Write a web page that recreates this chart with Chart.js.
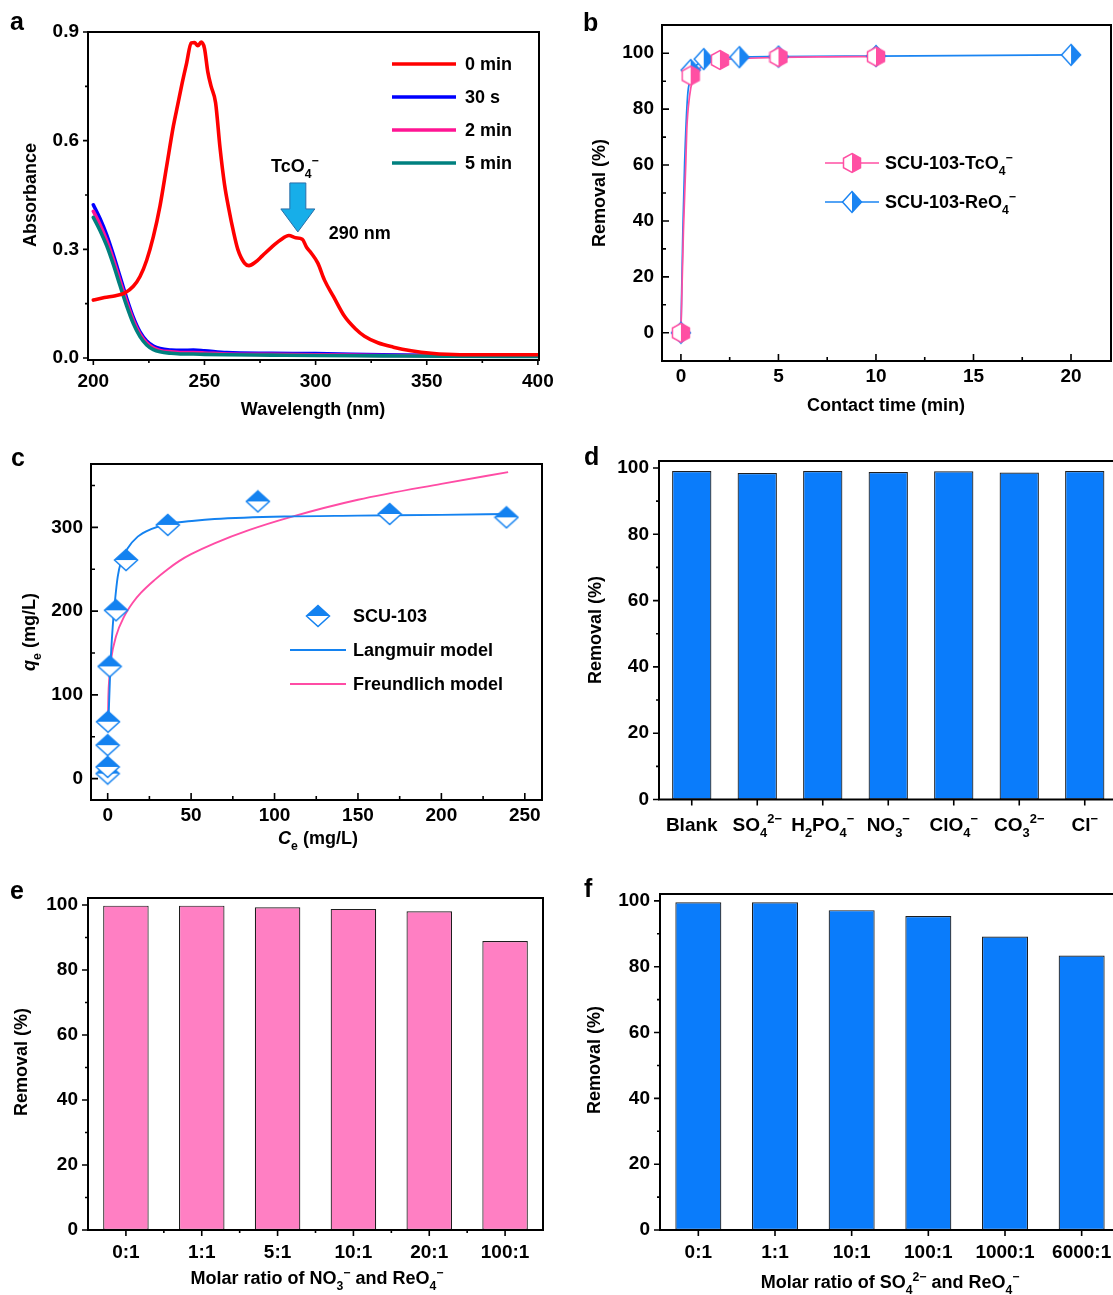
<!DOCTYPE html>
<html>
<head>
<meta charset="utf-8">
<script src="https://cdn.jsdelivr.net/npm/chart.js@4.4.0/dist/chart.umd.min.js"></script>
<style>
html, body { margin:0; padding:0; background:#fff; overflow:hidden; width:1113px; height:1295px; }
canvas { position:absolute; left:0; top:0; }
</style>
</head>
<body>
<canvas id="chartA" width="1130" height="1295"></canvas>
<canvas id="chartB" width="1130" height="1295"></canvas>
<canvas id="chartC" width="1130" height="1295"></canvas>
<canvas id="chartD" width="1130" height="1295"></canvas>
<canvas id="chartE" width="1130" height="1295"></canvas>
<canvas id="chartF" width="1130" height="1295"></canvas>
<script>
// ── Data ──
// a: UV-vis spectra
const wl0  = [200,205,210,214,218,221,224,227,230,233,236,238,240,242,244,245.5,247,248.5,250,251.5,253,255,257,259,261,263,265,268,270,273,276,280,284,288,291,294,296,298,301,304,308,313,318,322,328,335,343,352,365,380,400];
const abs0 = [0.160,0.167,0.172,0.179,0.198,0.225,0.270,0.335,0.420,0.530,0.640,0.700,0.760,0.815,0.870,0.871,0.862,0.872,0.855,0.790,0.750,0.705,0.580,0.480,0.410,0.350,0.300,0.262,0.255,0.265,0.282,0.305,0.325,0.338,0.332,0.328,0.305,0.290,0.262,0.215,0.170,0.115,0.080,0.060,0.042,0.030,0.020,0.013,0.009,0.009,0.009];
const wlLow   = [200,203,206,209,212,215,218,221,224,227,230,235,240,245,250,260,280,300,330,360,400];
const abs30s  = [0.423,0.385,0.340,0.285,0.225,0.165,0.112,0.072,0.047,0.033,0.026,0.022,0.021,0.022,0.020,0.015,0.013,0.012,0.009,0.007,0.006];
const abs2min = [0.405,0.368,0.325,0.272,0.213,0.155,0.104,0.066,0.042,0.028,0.021,0.017,0.015,0.015,0.014,0.011,0.010,0.009,0.007,0.006,0.005];
const abs5min = [0.388,0.352,0.310,0.258,0.200,0.144,0.095,0.059,0.036,0.023,0.017,0.013,0.011,0.011,0.010,0.009,0.008,0.007,0.006,0.005,0.004];
const aLegend = ['0 min','30 s','2 min','5 min'];
const aTicksX = [200,250,300,350,400];
const aTicksY = [0,0.3,0.6,0.9];

// b: kinetics
const tcTime    = [0,0.5,2,5,10];
const tcRemoval = [0,92,97.6,98.6,98.8];
const reTime    = [0,0.5,1.17,3,5,10,20];
const reRemoval = [0,94,97.9,98.6,98.8,99.0,99.4];
const tcFitTime    = [0,0.13,0.25,0.3,0.44,0.6,0.87,1.33,1.76,2.5,3.5,5,7.5,10];
const tcFitRemoval = [0,36.8,60.6,72.5,84.5,90.4,94,96.2,97.4,97.9,98.2,98.5,98.7,98.8];
const reFitTime    = [0,0.1,0.19,0.34,0.48,0.7,1,1.5,3,5,10,20];
const reFitRemoval = [0,36.8,60.6,84.5,90.4,94.8,96.8,97.8,98.6,98.8,99.0,99.4];
const bLegend = ['SCU-103-TcO_{4}^{−}','SCU-103-ReO_{4}^{−}'];
const bTicksX = [0,5,10,15,20];
const bTicksY = [0,20,40,60,80,100];

// c: isotherm
const ceData = [0,0,0,0.2,1.2,5,11,36,90,169,239];
const qeData = [6,14,40,68,134,201,261,303,331,316,312];
const langCe = [0.3,1.6,3,4.4,6,8,12,18,26,36,52,64,106,150,200,240];
const langQe = [58,133,181,213,241,259,275,289,298,304,308,310,313,314,315,316];
const freCe  = [0.1,0.4,1,2,5,10,15,20,28,36,43,50,64,85,109,150,200,240];
const freQe  = [66,98,121,142,170,194,210,222,237,250,260,268,281,297,312,333,352,366];
const cLegend = ['SCU-103','Langmuir model','Freundlich model'];
const cTicksX = [0,50,100,150,200,250];
const cTicksY = [0,100,200,300];

// d, e, f: bars
const dIons    = ['Blank','SO_{4}^{2−}','H_{2}PO_{4}^{−}','NO_{3}^{−}','ClO_{4}^{−}','CO_{3}^{2−}','Cl^{−}'];
const dRemoval = [99.1,98.5,99.1,98.8,99.0,98.6,99.1];
const eRatios  = ['0:1','1:1','5:1','10:1','20:1','100:1'];
const eRemoval = [99.8,99.8,99.3,98.8,98.05,88.9];
const fRatios  = ['0:1','1:1','10:1','100:1','1000:1','6000:1'];
const fRemoval = [99.6,99.6,97.2,95.4,89.2,83.4];
const barTicksY = [0,20,40,60,80,100];

// ── Helpers ──
const FONT = "'Liberation Sans', Arial, Helvetica, sans-serif";
const PAGE_W = 1130, PAGE_H = 1295;
const toXY = (xs, ys) => xs.map((x, i) => ({x, y: ys[i]}));

function parseRich(s) {
  const parts = [], re = /([_^*])\{([^}]*)\}|([^_^*]+)/g;
  let m;
  while ((m = re.exec(s))) parts.push(m[3] ? {t:m[3], k:''} : {t:m[2], k:m[1]});
  return parts;
}
function richFont(p, size) {
  const small = p.k === '_' || p.k === '^';
  return `${p.k === '*' ? 'italic ' : ''}bold ${small ? size * 0.68 : size}px ${FONT}`;
}
// y = vertical centre of capitals
function drawRich(ctx, s, x, y, size, align, rot) {
  const parts = parseRich(s);
  ctx.save();
  ctx.translate(x, y);
  if (rot) ctx.rotate(rot);
  let w = 0;
  parts.forEach(p => { ctx.font = richFont(p, size); p.w = ctx.measureText(p.t).width; w += p.w; });
  let cx = align === 'center' ? -w / 2 : align === 'right' ? -w : 0;
  const base = size * 0.36;
  ctx.fillStyle = '#000';
  ctx.textAlign = 'left';
  ctx.textBaseline = 'alphabetic';
  parts.forEach(p => {
    ctx.font = richFont(p, size);
    const dy = p.k === '_' ? size * 0.3 : p.k === '^' ? -size * 0.42 : 0;
    ctx.fillText(p.t, cx, base + dy);
    cx += p.w;
  });
  ctx.restore();
}

function markerImg(shape, w, h, color, half) {
  const c = document.createElement('canvas');
  c.width = w + 3; c.height = h + 3;
  const g = c.getContext('2d');
  g.translate(1.5, 1.5);
  g.beginPath();
  if (shape === 'hex') {
    g.moveTo(w/2, 0); g.lineTo(w, h*0.25); g.lineTo(w, h*0.75);
    g.lineTo(w/2, h); g.lineTo(0, h*0.75); g.lineTo(0, h*0.25);
  } else {
    g.moveTo(w/2, 0); g.lineTo(w, h/2); g.lineTo(w/2, h); g.lineTo(0, h/2);
  }
  g.closePath();
  g.fillStyle = '#fff'; g.fill();
  g.save(); g.clip();
  g.fillStyle = color;
  if (half === 'right') g.fillRect(w/2, -2, w, h + 4);
  else g.fillRect(-2, -2, w + 4, h/2 + 2);
  g.restore();
  g.strokeStyle = color; g.lineWidth = 1.5; g.stroke();
  return c;
}

function axisLin(min, max, ticks, fmt, pad, fit) {
  return {
    type:'linear', min, max,
    grid:{display:false, drawTicks:false}, border:{display:false},
    ticks:{font:{family:FONT, size:19, weight:'bold'}, color:'#000', padding:pad, maxRotation:0, autoSkip:false, callback:fmt},
    afterBuildTicks: s => { s.ticks = ticks.map(v => ({value:v})); },
    afterFit: fit
  };
}
function axisCat(fit) {
  return {
    type:'category', offset:true,
    grid:{display:false, drawTicks:false, offset:true}, border:{display:false},
    ticks:{display:false, autoSkip:false, maxRotation:0},
    afterFit: fit
  };
}

// frame, ticks, titles, letter and extras drawn over each panel
function framePlugin(p) {
  return {
    id: 'frame' + p.letter,
    afterDraw(chart) {
      const ctx = chart.ctx, a = chart.chartArea;
      const sx = chart.scales.x, sy = chart.scales.y;
      const sg = p.dir === 'in' ? -1 : 1;
      ctx.save();
      ctx.strokeStyle = '#000';
      ctx.lineWidth = 2;
      ctx.strokeRect(a.left, a.top, a.right - a.left, a.bottom - a.top);
      ctx.lineWidth = 1.6;
      ctx.beginPath();
      sx.ticks.forEach((t, i) => { const x = sx.getPixelForTick(i); ctx.moveTo(x, a.bottom); ctx.lineTo(x, a.bottom + sg * p.major); });
      (p.xMinor || []).forEach(v => { const x = sx.getPixelForValue(v); ctx.moveTo(x, a.bottom); ctx.lineTo(x, a.bottom + sg * p.minor); });
      sy.ticks.forEach((t, i) => { const y = sy.getPixelForTick(i); ctx.moveTo(a.left, y); ctx.lineTo(a.left - sg * p.major, y); });
      (p.yMinor || []).forEach(v => { const y = sy.getPixelForValue(v); ctx.moveTo(a.left, y); ctx.lineTo(a.left - sg * p.minor, y); });
      ctx.stroke();
      if (p.catY) sx.ticks.forEach((t, i) => drawRich(ctx, sx.getLabelForValue(t.value), sx.getPixelForTick(i), p.catY, 19, 'center'));
      if (p.xTitle) drawRich(ctx, p.xTitle.text, p.xTitle.x, p.xTitle.y, 18, 'center');
      if (p.yTitle) drawRich(ctx, p.yTitle.text, p.yTitle.x, p.yTitle.y, 18, 'center', -Math.PI / 2);
      ctx.font = `bold 25px ${FONT}`;
      ctx.fillStyle = '#000';
      ctx.textAlign = 'left';
      ctx.textBaseline = 'alphabetic';
      ctx.fillText(p.letter, p.lx, p.ly);
      if (p.extra) p.extra(chart, ctx);
      ctx.restore();
    }
  };
}

function makeChart(id, type, data, box, scales, plugin) {
  const fitX = s => { s.height = PAGE_H - box.b; };
  const fitY = s => { s.width = box.l; };
  scales.x.afterFit = fitX;
  scales.y.afterFit = fitY;
  return new Chart(document.getElementById(id), {
    type, data,
    options: {
      responsive:false, animation:false, events:[],
      layout:{padding:{left:0, top:box.t, right:PAGE_W - box.r, bottom:0}},
      plugins:{legend:{display:false}, tooltip:{enabled:false}},
      scales
    },
    plugins:[plugin]
  });
}

// ── Panel a ──
const aColors = ['#ff0000','#0000ff','#ff1493','#00807f'];
makeChart('chartA', 'scatter', {
  datasets: [
    {data:toXY(wl0, abs0), borderColor:aColors[0]},
    {data:toXY(wlLow, abs5min), borderColor:aColors[3]},
    {data:toXY(wlLow, abs2min), borderColor:aColors[2]},
    {data:toXY(wlLow, abs30s), borderColor:aColors[1]}
  ].map(d => Object.assign(d, {showLine:true, pointRadius:0, borderWidth:3.6, cubicInterpolationMode:'monotone', borderJoinStyle:'round', borderCapStyle:'round'}))
}, {l:88, t:32, r:539, b:360}, {
  x: axisLin(197.6, 400.5, aTicksX, v => String(v), 10),
  y: axisLin(-0.0055, 0.9, aTicksY, v => v.toFixed(1), 9)
}, framePlugin({
  letter:'a', lx:10, ly:30, dir:'out', major:5, minor:3,
  xMinor:[225,275,325,375], yMinor:[0.15,0.45,0.75],
  xTitle:{text:'Wavelength (nm)', x:313, y:409},
  yTitle:{text:'Absorbance', x:30, y:195},
  extra(chart, ctx) {
    // legend
    aLegend.forEach((lab, i) => {
      const y = 64 + i * 33;
      ctx.strokeStyle = aColors[i]; ctx.lineWidth = 3.6;
      ctx.beginPath(); ctx.moveTo(392, y); ctx.lineTo(456, y); ctx.stroke();
      drawRich(ctx, lab, 465, y, 18, 'left');
    });
    // arrow at 290 nm band
    const px = chart.scales.x.getPixelForValue(292), py = chart.scales.y.getPixelForValue(0.348);
    ctx.beginPath();
    ctx.moveTo(px, py); ctx.lineTo(px + 17, py - 23); ctx.lineTo(px + 8, py - 23); ctx.lineTo(px + 8, py - 49);
    ctx.lineTo(px - 8, py - 49); ctx.lineTo(px - 8, py - 23); ctx.lineTo(px - 17, py - 23); ctx.closePath();
    ctx.fillStyle = '#17aee9'; ctx.fill();
    ctx.strokeStyle = '#2a6fa8'; ctx.lineWidth = 1; ctx.stroke();
    drawRich(ctx, 'TcO_{4}^{−}', px - 3, py - 66, 18, 'center');
    drawRich(ctx, '290 nm', px + 31, py + 1, 18, 'left');
  }
}));

// ── Panel b ──
const bPink = '#ff4fa3', bBlue = '#1a84f2';
const hexImg = markerImg('hex', 17, 19, bPink, 'right');
const diaImgB = markerImg('diamond', 19, 21, bBlue, 'right');
makeChart('chartB', 'scatter', {
  datasets: [
    {data:toXY(tcTime, tcRemoval), pointStyle:hexImg, pointRadius:8, showLine:false},
    {data:toXY(reTime, reRemoval), pointStyle:diaImgB, pointRadius:8, showLine:false},
    {data:toXY(tcFitTime, tcFitRemoval), showLine:true, pointRadius:0, borderColor:bPink, borderWidth:1.7, cubicInterpolationMode:'monotone'},
    {data:toXY(reFitTime, reFitRemoval), showLine:true, pointRadius:0, borderColor:bBlue, borderWidth:1.7, cubicInterpolationMode:'monotone'}
  ]
}, {l:662, t:25, r:1111, b:361}, {
  x: axisLin(-0.97, 22.05, bTicksX, v => String(v), 4),
  y: axisLin(-10.1, 110.1, bTicksY, v => String(v), 8)
}, framePlugin({
  letter:'b', lx:583, ly:31, dir:'in', major:7, minor:4,
  xMinor:[2.5,7.5,12.5,17.5], yMinor:[10,30,50,70,90],
  xTitle:{text:'Contact time (min)', x:886, y:405},
  yTitle:{text:'Removal (%)', x:599, y:193},
  extra(chart, ctx) {
    [[bPink, hexImg], [bBlue, diaImgB]].forEach(([col, img], i) => {
      const y = 163 + i * 39;
      ctx.strokeStyle = col; ctx.lineWidth = 1.7;
      ctx.beginPath(); ctx.moveTo(825, y); ctx.lineTo(879, y); ctx.stroke();
      ctx.drawImage(img, 852 - img.width / 2, y - img.height / 2);
      drawRich(ctx, bLegend[i], 885, y, 18, 'left');
    });
  }
}));

// ── Panel c ──
const cBlue = '#1482f0', cPink = '#ff4ca5';
const diaImgC = markerImg('diamond', 23, 21, cBlue, 'top');
makeChart('chartC', 'scatter', {
  datasets: [
    {data:toXY(ceData, qeData), pointStyle:diaImgC, pointRadius:8, showLine:false},
    {data:toXY(langCe, langQe), showLine:true, pointRadius:0, borderColor:cBlue, borderWidth:1.9, cubicInterpolationMode:'monotone'},
    {data:toXY(freCe, freQe), showLine:true, pointRadius:0, borderColor:cPink, borderWidth:1.9, cubicInterpolationMode:'monotone'}
  ]
}, {l:91, t:464, r:542, b:800}, {
  x: axisLin(-10, 260.3, cTicksX, v => String(v), 4),
  y: axisLin(-25.5, 375.7, cTicksY, v => String(v), 8)
}, framePlugin({
  letter:'c', lx:11, ly:466, dir:'in', major:7, minor:4,
  xMinor:[25,75,125,175,225], yMinor:[50,150,250,350],
  xTitle:{text:'*{C}_{e} (mg/L)', x:318, y:838},
  yTitle:{text:'*{q}_{e} (mg/L)', x:29, y:632},
  extra(chart, ctx) {
    ctx.drawImage(diaImgC, 318 - diaImgC.width / 2, 616 - diaImgC.height / 2);
    drawRich(ctx, cLegend[0], 353, 616, 18, 'left');
    [[cBlue, 650], [cPink, 684]].forEach(([col, y], i) => {
      ctx.strokeStyle = col; ctx.lineWidth = 1.9;
      ctx.beginPath(); ctx.moveTo(290, y); ctx.lineTo(346, y); ctx.stroke();
      drawRich(ctx, cLegend[i + 1], 353, y, 18, 'left');
    });
  }
}));

// ── Bar panels ──
function barSet(values, color) {
  return {data:values, backgroundColor:color, borderColor:'#1e1e1e', borderWidth:1.2, borderSkipped:false,
          barPercentage:0.6, categoryPercentage:1};
}
const barBlue = '#0a7cfb', barPink = '#ff7fc3';

makeChart('chartD', 'bar', {labels:dIons, datasets:[barSet(dRemoval, barBlue)]},
  {l:659, t:461, r:1117.5, b:799.5}, {
  x: axisCat(),
  y: axisLin(0, 102.1, barTicksY, v => String(v), 10)
}, framePlugin({
  letter:'d', lx:584, ly:465, dir:'out', major:6, minor:3,
  yMinor:[10,30,50,70,90], catY:824,
  yTitle:{text:'Removal (%)', x:595, y:630}
}));

makeChart('chartE', 'bar', {labels:eRatios, datasets:[barSet(eRemoval, barPink)]},
  {l:88, t:898, r:543, b:1230}, {
  x: axisCat(),
  y: axisLin(0, 102.15, barTicksY, v => String(v), 10)
}, framePlugin({
  letter:'e', lx:10, ly:899, dir:'out', major:6, minor:3,
  xMinor:[0.5,1.5,2.5,3.5,4.5], yMinor:[10,30,50,70,90], catY:1251,
  xTitle:{text:'Molar ratio of NO_{3}^{−} and ReO_{4}^{−}', x:317, y:1278},
  yTitle:{text:'Removal (%)', x:21, y:1062}
}));

makeChart('chartF', 'bar', {labels:fRatios, datasets:[barSet(fRemoval, barBlue)]},
  {l:660, t:894, r:1120, b:1230}, {
  x: axisCat(),
  y: axisLin(0, 102.1, barTicksY, v => String(v), 10)
}, framePlugin({
  letter:'f', lx:584, ly:897, dir:'out', major:6, minor:3,
  yMinor:[10,30,50,70,90], catY:1251,
  xTitle:{text:'Molar ratio of SO_{4}^{2−} and ReO_{4}^{−}', x:890, y:1282},
  yTitle:{text:'Removal (%)', x:594, y:1060}
}));
</script>
</body>
</html>
